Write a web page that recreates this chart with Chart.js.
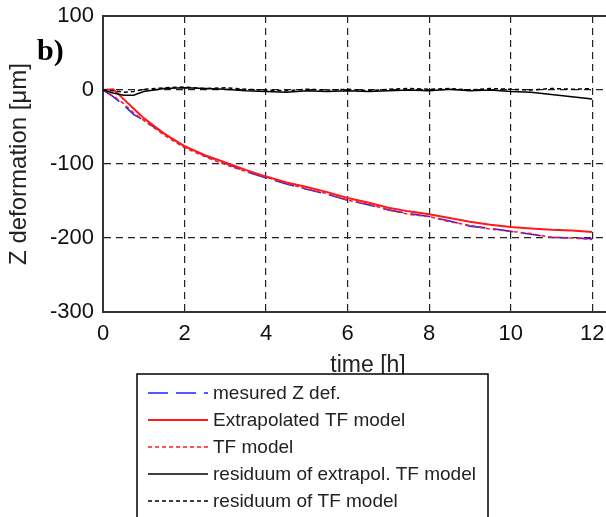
<!DOCTYPE html>
<html>
<head>
<meta charset="utf-8">
<script src="https://cdn.jsdelivr.net/npm/chart.js@4.4.1/dist/chart.umd.min.js"></script>
<style>
  html, body { margin: 0; padding: 0; background: #fff; overflow: hidden; }
  /* plot runs past the right edge of the window, like the cropped original */
  #wrap { position: relative; width: 640px; height: 517px; }
</style>
</head>
<body>
<div id="wrap"><canvas id="zdef"></canvas></div>
<script>
// values (time in hours, deformation in micrometres)
const timeH       = [0, 0.25, 0.5, 0.75, 1, 1.5, 2, 2.5, 3, 3.5, 4, 4.5, 5, 5.5, 6, 6.5, 7, 7.5, 8, 8.5, 9, 9.5, 10, 10.5, 11, 11.5, 12];
const measuredZ   = [0, -9, -20, -33, -41, -59, -76, -89, -99, -110, -119, -127, -134, -141, -149, -155, -162, -167, -171, -177, -184, -187, -191, -195, -199, -200, -201];
const extrapTF    = [0, 1, -12, -25, -38, -59, -76, -88, -98, -108, -117, -125, -131, -138, -146, -152, -159, -164, -168, -173, -178, -182, -185, -187, -189, -190, -192];
const modelTF     = [0, -8, -18, -31, -41, -61, -78, -90, -101, -110, -118, -126, -134, -140, -149, -154, -162, -168, -171, -178, -183, -188, -191, -194, -199, -200, -202];
const residExtrap = [0, -4, -7, -7, -2, 2, 3, 2, 1, -1, -2, -3, -1, -2, -1, -2, -1, 0, -1, 1, -1, 0, -2, -3, -6, -9, -12];
const residTF     = [0, -1, -3, -2, 1, 3, 4, 2, 3, 1, 0, -1, 1, 0, 1, -1, 1, 2, 1, 2, 0, 2, 1, 0, 2, 1, 2];

const xTicks = [0, 2, 4, 6, 8, 10, 12];
const yTicks = [100, 0, -100, -200, -300];

const seriesNames = ["mesured Z def.", "Extrapolated TF model", "TF model",
                     "residuum of extrapol. TF model", "residuum of TF model"];

function pts(vals) {
  return vals.map((v, i) => ({x: timeH[i], y: v}));
}

const FONT = "'Liberation Sans', Arial, sans-serif";

// top frame line, the "b)" panel tag and the boxed legend under the axes
const extras = {
  id: "extras",
  afterDraw(chart) {
    const ctx = chart.ctx;
    const a = chart.chartArea;
    ctx.save();
    ctx.strokeStyle = "#333";
    ctx.lineWidth = 2;
    ctx.beginPath();
    ctx.moveTo(a.left, a.top);
    ctx.lineTo(a.right, a.top);
    ctx.stroke();

    ctx.fillStyle = "#000";
    ctx.font = "bold 30px 'Liberation Serif', 'Times New Roman', serif";
    ctx.textBaseline = "alphabetic";
    ctx.fillText("b)", 37, 60);

    // legend box
    ctx.fillStyle = "#fff";
    ctx.fillRect(137, 374, 351, 160);
    ctx.strokeStyle = "#000";
    ctx.lineWidth = 1.5;
    ctx.strokeRect(137, 374, 351, 160);

    chart.data.datasets.forEach((ds, i) => {
      const y = 393 + i * 27;
      ctx.strokeStyle = ds.borderColor;
      ctx.lineWidth = ds.borderWidth;
      ctx.setLineDash(ds.borderDash || []);
      ctx.beginPath();
      ctx.moveTo(148, y);
      ctx.lineTo(208, y);
      ctx.stroke();
      ctx.setLineDash([]);
      ctx.fillStyle = "#222";
      ctx.font = "19px " + FONT;
      ctx.textBaseline = "middle";
      ctx.fillText(ds.label, 213, y + 1);
    });
    ctx.restore();
  }
};

new Chart(document.getElementById("zdef"), {
  type: "line",
  data: {
    datasets: [
      {label: seriesNames[0], data: pts(measuredZ), borderColor: "#2020ff", borderWidth: 1.6, borderDash: [20, 8], order: 5},
      {label: seriesNames[1], data: pts(extrapTF), borderColor: "#ff1a1a", borderWidth: 2, order: 4},
      {label: seriesNames[2], data: pts(modelTF), borderColor: "#ff1a1a", borderWidth: 1.5, borderDash: [4, 3], order: 3},
      {label: seriesNames[3], data: pts(residExtrap), borderColor: "#000", borderWidth: 1.5, order: 2},
      {label: seriesNames[4], data: pts(residTF), borderColor: "#000", borderWidth: 1.5, borderDash: [4, 3], order: 1}
    ]
  },
  options: {
    responsive: true,
    maintainAspectRatio: false,
    animation: false,
    layout: {padding: {left: 0, top: 16, right: 7, bottom: 138}},
    elements: {point: {radius: 0}, line: {tension: 0}},
    plugins: {legend: {display: false}, tooltip: {enabled: false}},
    scales: {
      x: {
        type: "linear",
        min: 0,
        max: 13,
        afterBuildTicks: (s) => { s.ticks = xTicks.map(v => ({value: v})); },
        afterFit: (s) => { s.height = 67; s.paddingLeft = 0; s.paddingRight = 0; },
        grid: {color: "#222", lineWidth: 1.2, drawTicks: false},
        border: {display: true, color: "#333", width: 2, dash: [7, 5]},
        ticks: {color: "#111", font: {family: FONT, size: 22}, padding: 9, maxRotation: 0},
        title: {display: true, text: "time [h]", color: "#222", font: {family: FONT, size: 23}, padding: 0}
      },
      y: {
        type: "linear",
        min: -300,
        max: 100,
        afterBuildTicks: (s) => { s.ticks = yTicks.map(v => ({value: v})); },
        afterFit: (s) => { s.width = 103; s.paddingTop = 0; s.paddingBottom = 0; },
        grid: {color: "#222", lineWidth: 1.2, drawTicks: false},
        border: {display: true, color: "#333", width: 2, dash: [7, 5]},
        ticks: {color: "#111", font: {family: FONT, size: 22}, padding: 9},
        title: {display: true, text: "Z deformation [\u03bcm]", color: "#222", font: {family: FONT, size: 24}, padding: {top: 5, bottom: 0}}
      }
    }
  },
  plugins: [extras]
});
</script>
</body>
</html>
